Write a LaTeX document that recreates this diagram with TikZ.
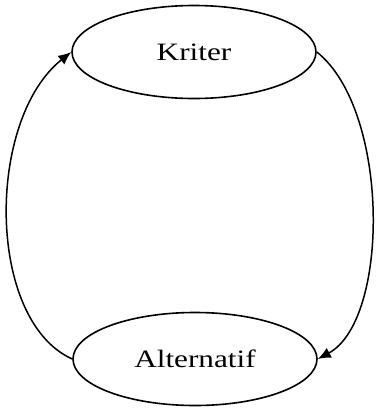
\documentclass[tikz,border=0pt]{standalone}
\usepackage{fontspec}
\usepackage{graphicx}
\setmainfont{Liberation Serif}
\usetikzlibrary{shapes.geometric,arrows.meta}
\begin{document}
\begin{tikzpicture}[x=1pt,y=-1pt,
  state/.style={ellipse,draw,line width=1.6pt,minimum width=244pt,minimum height=93pt,inner sep=0pt,font=\fontsize{25}{28}\selectfont},
  link/.style={line width=1.5pt,-{Latex[length=13pt,width=11pt]}}]
\useasboundingbox (0,0) rectangle (378,413);
\node[state] (k) at (194,52) {\scalebox{1.25}[1]{Kriter}};
\node[state] (a) at (195,359) {\scalebox{1.25}[1]{Alternatif}};
\draw[link] (a.west) .. controls (-14,320) and (-14,120) .. (k.west);
\draw[link] (k.east) .. controls (390,110) and (390,320) .. (a.east);
\end{tikzpicture}
\end{document}
